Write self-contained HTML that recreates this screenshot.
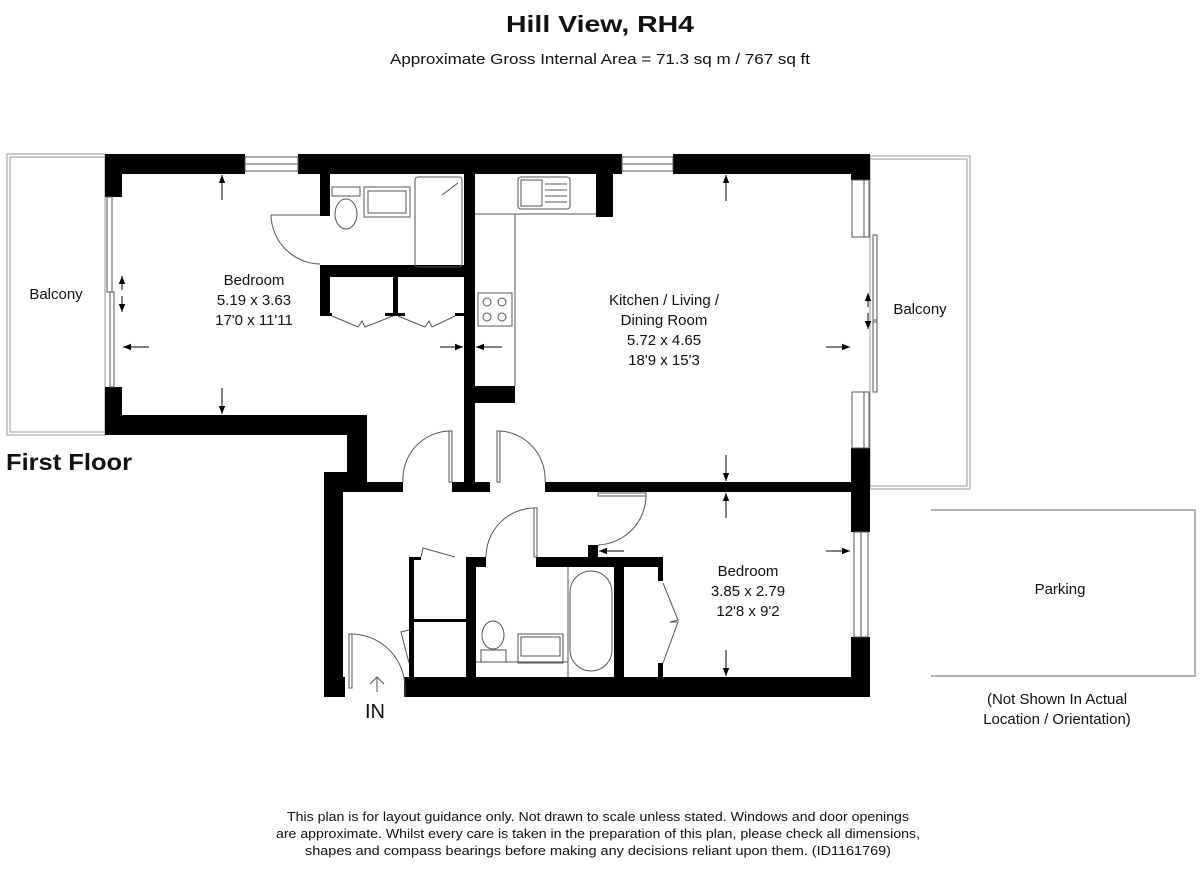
<!DOCTYPE html>
<html><head><meta charset="utf-8"><style>
body{margin:0;background:#fff}
svg{display:block}
text{font-family:"Liberation Sans",Arial,sans-serif;fill:#111}
</style></head><body>
<svg width="1200" height="870" viewBox="0 0 1200 870" xmlns="http://www.w3.org/2000/svg">
<defs>
<marker id="ah" viewBox="0 0 10 10" refX="10" refY="5" markerWidth="10" markerHeight="8" orient="auto-start-reverse" markerUnits="userSpaceOnUse"><path d="M0,1 L10,5 L0,9z" fill="#000"/></marker>
</defs>
<text x="600" y="32" font-size="23" font-weight="bold" text-anchor="middle" textLength="188" lengthAdjust="spacingAndGlyphs">Hill View, RH4</text>
<text x="600" y="64" font-size="15" text-anchor="middle" textLength="420" lengthAdjust="spacingAndGlyphs">Approximate Gross Internal Area = 71.3 sq m / 767 sq ft</text>

<g fill="none" stroke="#999" stroke-width="1">
<rect x="7" y="154" width="98" height="281"/><rect x="10" y="157" width="95" height="275"/>
<rect x="870" y="156" width="100" height="333"/><rect x="870" y="159" width="97" height="327"/>
<polyline points="931,510 1195,510 1195,676 931,676" stroke-width="1.5"/>
</g>

<g fill="#000">
<rect x="105" y="154" width="140" height="20"/>
<rect x="298" y="154" width="324" height="20"/>
<rect x="673" y="154" width="197" height="20"/>
<rect x="105" y="154" width="17" height="43"/>
<rect x="105" y="387" width="17" height="48"/>
<rect x="105" y="415" width="262" height="20"/>
<rect x="347" y="415" width="20" height="77"/>
<rect x="324" y="472" width="43" height="20"/>
<rect x="324" y="472" width="19" height="224"/>
<rect x="324" y="677" width="21" height="20"/>
<rect x="404" y="677" width="466" height="20"/>
<rect x="343" y="482" width="60" height="10"/>
<rect x="452" y="482" width="38" height="10"/>
<rect x="545" y="482" width="325" height="10"/>
<rect x="464" y="174" width="11" height="318"/>
<rect x="475" y="386" width="40" height="17"/>
<rect x="596" y="174" width="17" height="43"/>
<rect x="851" y="154" width="19" height="26"/>
<rect x="851" y="448" width="19" height="84"/>
<rect x="851" y="637" width="19" height="60"/>
<rect x="320" y="174" width="10" height="42"/>
<rect x="320" y="265" width="155" height="12"/>
<rect x="320" y="265" width="10" height="50"/>
<rect x="320" y="313" width="12" height="3"/>
<rect x="393" y="277" width="5" height="38"/>
<rect x="385" y="313" width="20" height="3"/>
<rect x="455" y="313" width="10" height="3"/>
<rect x="536" y="557" width="127" height="10"/>
<rect x="466" y="557" width="20" height="10"/>
<rect x="466" y="557" width="10" height="120"/>
<rect x="588" y="545" width="10" height="14"/>
<rect x="614" y="557" width="10" height="120"/>
<rect x="409" y="557" width="5" height="120"/>
<rect x="409" y="557" width="12" height="3"/>
<rect x="409" y="619" width="57" height="3"/>
<rect x="658" y="557" width="5" height="24"/>
<rect x="658" y="663" width="5" height="14"/>
<rect x="409" y="663" width="5" height="14"/>
</g>

<g fill="none" stroke="#555" stroke-width="1">
<rect x="245" y="157" width="53" height="14"/><line x1="245" y1="164" x2="298" y2="164"/>
<rect x="622" y="157" width="51" height="14"/><line x1="622" y1="164" x2="673" y2="164"/>
<rect x="107" y="197" width="5" height="95"/><rect x="110" y="292" width="4" height="95"/>
<rect x="852" y="180" width="12" height="57"/><rect x="864" y="180" width="5" height="57"/>
<rect x="873" y="235" width="4" height="87"/><rect x="873" y="320" width="4" height="72"/>
<rect x="852" y="392" width="12" height="56"/><rect x="864" y="392" width="5" height="56"/>
<rect x="854" y="532" width="14" height="105"/><line x1="861" y1="532" x2="861" y2="637"/>
<polyline points="475,214 515,214 515,386"/>
<line x1="515" y1="214" x2="596" y2="214"/>
<rect x="518" y="177" width="52" height="32" rx="3"/>
<rect x="521" y="180" width="21" height="26"/>
<line x1="545" y1="184" x2="567" y2="184"/><line x1="545" y1="190" x2="567" y2="190"/><line x1="545" y1="196" x2="567" y2="196"/><line x1="545" y1="202" x2="567" y2="202"/>
<rect x="478" y="293" width="34" height="33"/>
<circle cx="487" cy="302" r="4"/><circle cx="502" cy="302" r="4"/><circle cx="487" cy="317" r="4"/><circle cx="502" cy="317" r="4"/>
<rect x="415" y="177" width="47" height="90" rx="3"/>
<line x1="442" y1="195" x2="458" y2="183"/>
<rect x="364" y="187" width="46" height="30"/><rect x="368" y="191" width="38" height="22"/>
<rect x="332" y="187" width="28" height="9"/>
<ellipse cx="346" cy="214" rx="11" ry="15"/>
<path d="M271,215 L320,215 M271,215 A50,50 0 0 0 320,264"/>
<polyline points="332,316 358,327 362,321 365,327 393,316"/>
<polyline points="398,316 425,327 429,321 432,327 455,316"/>
<rect x="449" y="431" width="3" height="51"/><path d="M449,431 A48,48 0 0 0 403,482"/>
<rect x="497" y="431" width="3" height="51"/><path d="M500,431 A48,48 0 0 1 545,482"/>
<rect x="598" y="493" width="48" height="3"/><path d="M646,494 A50,50 0 0 1 598,545"/>
<rect x="534" y="508" width="3" height="49"/><path d="M534,508 A49,49 0 0 0 486,557"/>
<rect x="349" y="634" width="3" height="54"/><path d="M352,634 A54,54 0 0 1 405,688"/>
<line x1="405" y1="688" x2="405" y2="697"/>
<polyline points="421,557 423,548 455,557"/>
<polyline points="409,630 401,632 409,663"/>
<rect x="570" y="571" width="42" height="100" rx="21"/>
<line x1="568" y1="567" x2="568" y2="677"/>
<line x1="476" y1="662" x2="568" y2="662"/>
<ellipse cx="493" cy="635" rx="11" ry="14"/><rect x="481" y="650" width="25" height="12"/>
<rect x="518" y="634" width="45" height="29"/><rect x="521" y="637" width="39" height="19"/>
<polyline points="663,583 678,620 670,622 678,622 663,663"/>
<path d="M377,692 L377,678 M370,684 L377,677 L384,684"/>
</g>

<g stroke="#000" stroke-width="1" marker-end="url(#ah)">
<line x1="222" y1="200" x2="222" y2="175"/>
<line x1="222" y1="388" x2="222" y2="414"/>
<line x1="149" y1="347" x2="123" y2="347"/>
<line x1="440" y1="347" x2="463" y2="347"/>
<line x1="502" y1="347" x2="476" y2="347"/>
<line x1="826" y1="347" x2="850" y2="347"/>
<line x1="726" y1="201" x2="726" y2="175"/>
<line x1="726" y1="455" x2="726" y2="481"/>
<line x1="726" y1="518" x2="726" y2="493"/>
<line x1="726" y1="650" x2="726" y2="676"/>
<line x1="624" y1="551" x2="599" y2="551"/>
<line x1="826" y1="551" x2="850" y2="551"/>
</g>
<g stroke="#000" stroke-width="1">
<line x1="122" y1="290" x2="122" y2="276" marker-end="url(#ah)"/>
<line x1="122" y1="296" x2="122" y2="312" marker-end="url(#ah)"/>
<line x1="868" y1="307" x2="868" y2="293" marker-end="url(#ah)"/>
<line x1="868" y1="313" x2="868" y2="329" marker-end="url(#ah)"/>
</g>

<g font-size="15" text-anchor="middle">
<text x="56" y="299">Balcony</text>
<text x="920" y="314">Balcony</text>
<text x="254" y="285">Bedroom</text>
<text x="254" y="305">5.19 x 3.63</text>
<text x="254" y="325">17'0 x 11'11</text>
<text x="664" y="305">Kitchen / Living /</text>
<text x="664" y="325">Dining Room</text>
<text x="664" y="345">5.72 x 4.65</text>
<text x="664" y="365">18'9 x 15'3</text>
<text x="748" y="576">Bedroom</text>
<text x="748" y="596">3.85 x 2.79</text>
<text x="748" y="616">12'8 x 9'2</text>
<text x="1060" y="594">Parking</text>
<text x="1057" y="704">(Not Shown In Actual</text>
<text x="1057" y="724">Location / Orientation)</text>
</g>
<text x="375" y="718" font-size="20" text-anchor="middle">IN</text>
<text x="6" y="470" font-size="23" font-weight="bold" textLength="126" lengthAdjust="spacingAndGlyphs">First Floor</text>
<g font-size="13" text-anchor="middle">
<text x="598" y="821" textLength="622" lengthAdjust="spacingAndGlyphs">This plan is for layout guidance only. Not drawn to scale unless stated. Windows and door openings</text>
<text x="598" y="838" textLength="644" lengthAdjust="spacingAndGlyphs">are approximate. Whilst every care is taken in the preparation of this plan, please check all dimensions,</text>
<text x="598" y="855" textLength="586" lengthAdjust="spacingAndGlyphs">shapes and compass bearings before making any decisions reliant upon them. (ID1161769)</text>
</g>
</svg>
</body></html>
